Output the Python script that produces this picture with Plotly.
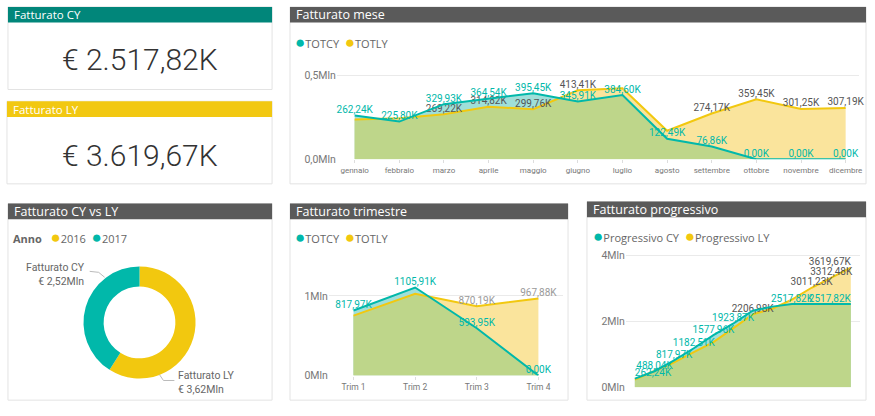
import plotly.graph_objects as go

W, H = 875, 416

# ---- data (K euro) ----
mesi = ["gennaio", "febbraio", "marzo", "aprile", "maggio", "giugno",
        "luglio", "agosto", "settembre", "ottobre", "novembre", "dicembre"]
tot_cy = [262.24, 225.80, 329.93, 364.54, 395.45, 345.91,
          384.60, 122.49, 76.86, 0.00, 0.00, 0.00]
tot_ly = [238.50, 245.89, 269.22, 314.82, 299.76, 413.41,
          425.38, 170.63, 274.17, 359.45, 301.25, 307.19]
# which labels Power BI shows
show_cy = [1, 1, 1, 1, 1, 1, 1, 1, 1, 1, 1, 1]
show_ly = [0, 0, 1, 1, 1, 1, 0, 0, 1, 1, 1, 1]

trimestri = ["Trim 1", "Trim 2", "Trim 3", "Trim 4"]
trim_cy = [817.97, 1105.91, 593.95, 0.00]
trim_ly = [753.61, 1027.99, 870.19, 967.88]
show_trim_cy = [1, 1, 1, 1]
show_trim_ly = [0, 0, 1, 1]

prog_cy = [262.24, 488.04, 817.97, 1182.51, 1577.96, 1923.87,
           2318.47, 2440.96, 2517.82, 2517.82, 2517.82, 2517.82]
prog_ly = [238.50, 484.39, 753.61, 1068.43, 1368.19, 1781.60,
           2206.98, 2377.61, 2651.78, 3011.23, 3312.48, 3619.67]
show_prog_cy = [1, 1, 1, 1, 1, 1, 0, 0, 1, 0, 0, 1]
show_prog_ly = [0, 0, 0, 0, 0, 0, 1, 0, 0, 1, 1, 1]

anni = ["2016", "2017"]
fatturato_anno = [3619.67, 2517.82]

TEAL = "#01B8AA"
YELLOW = "#F2C80F"
TEAL_FILL = "#9FDFD9"
YELLOW_FILL = "#FAE49C"
GREEN_FILL = "#BED68A"
GRID = "#EAEAEA"
FONT = "Roboto"
TITLE_FONT = "Open Sans"


def px(x):
    return x / W


def py(y):
    return 1 - y / H


def lab(v):
    return f"{v:.2f}".replace(".", ",") + "K"


def card(v):
    s = f"{v:,.2f}".replace(",", "X").replace(".", ",").replace("X", ".")
    return "€ " + s + "K"


def labels(vals, show):
    return [lab(v) if s else "" for v, s in zip(vals, show)]


def lower_env(a, b):
    # min of two polylines, with crossing points added
    xs, ys = [], []
    for i in range(len(a)):
        xs.append(i)
        ys.append(min(a[i], b[i]))
        if i < len(a) - 1:
            d0 = a[i] - b[i]
            d1 = a[i + 1] - b[i + 1]
            if d0 * d1 < 0:
                t = d0 / (d0 - d1)
                xs.append(i + t)
                ys.append(a[i] + t * (a[i + 1] - a[i]))
    return xs, ys


fig = go.Figure()


def add_area(cy, ly, txt_cy, txt_ly, ax, pos_cy=None, pos_ly=None, ly_col="#555555"):
    n = len(cy)
    x = list(range(n))
    cy_m = [v / 1000 for v in cy]
    ly_m = [v / 1000 for v in ly]
    ex, ey = lower_env(cy_m, ly_m)
    xa, ya = ("x", "y") if ax == 1 else (f"x{ax}", f"y{ax}")
    common = dict(xaxis=xa, yaxis=ya, hoverinfo="skip", showlegend=False)
    fig.add_trace(go.Scatter(x=x, y=ly_m, fill="tozeroy", fillcolor=YELLOW_FILL,
                             mode="none", **common))
    fig.add_trace(go.Scatter(x=x, y=cy_m, fill="tozeroy", fillcolor=TEAL_FILL,
                             mode="none", **common))
    fig.add_trace(go.Scatter(x=ex, y=ey, fill="tozeroy", fillcolor=GREEN_FILL,
                             mode="none", **common))
    fig.add_trace(go.Scatter(x=x, y=ly_m, mode="lines+text", line=dict(color=YELLOW, width=2),
                             text=txt_ly, textposition=pos_ly or "top center", cliponaxis=False,
                             textfont=dict(family=FONT, size=10, color=ly_col), **common))
    fig.add_trace(go.Scatter(x=x, y=cy_m, mode="lines+text", line=dict(color=TEAL, width=2),
                             text=txt_cy, textposition=pos_cy or "top center", cliponaxis=False,
                             textfont=dict(family=FONT, size=10, color=TEAL), **common))


add_area(tot_cy, tot_ly, labels(tot_cy, show_cy), labels(tot_ly, show_ly), 1)
add_area(trim_cy, trim_ly, labels(trim_cy, show_trim_cy), labels(trim_ly, show_trim_ly), 2,
         ly_col="#9A9A9A")
pos_pc = ["top right"] + ["top center"] * 10 + ["top left"]
pos_pl = ["top center"] * 11 + ["top left"]
add_area(prog_cy, prog_ly, labels(prog_cy, show_prog_cy), labels(prog_ly, show_prog_ly), 3,
         pos_cy=pos_pc, pos_ly=pos_pl)

# donut
fig.add_trace(go.Pie(labels=anni, values=fatturato_anno, hole=0.64, sort=False,
                     direction="clockwise", rotation=0, textinfo="none",
                     marker=dict(colors=[YELLOW, TEAL]), showlegend=False,
                     hoverinfo="skip",
                     domain=dict(x=[px(83), px(197)], y=[py(385), py(271)])))

ax_common = dict(showline=False, zeroline=False, fixedrange=True)
tick_font = dict(family=FONT, size=10.5, color="#777777")
fig.update_layout(
    width=W, height=H, margin=dict(l=0, r=0, t=0, b=0),
    paper_bgcolor="white", plot_bgcolor="rgba(0,0,0,0)",
    xaxis=dict(domain=[px(338), px(862)], range=[-0.4, 11.3],
               tickvals=list(range(12)), ticktext=mesi, showgrid=False,
               ticks="outside", ticklen=3, tickcolor="#DDDDDD",
               tickfont=dict(family=FONT, size=8, color="#777777"), anchor="y", **ax_common),
    yaxis=dict(domain=[py(162), py(55)], range=[0, 0.63], tickvals=[0, 0.5],
               ticktext=["0,0Mln", "0,5Mln"], gridcolor=GRID, tickfont=tick_font,
               anchor="x", **ax_common),
    xaxis2=dict(domain=[px(330), px(565)], range=[-0.4, 3.4],
                tickvals=list(range(4)), ticktext=trimestri, showgrid=False,
                ticks="outside", ticklen=3, tickcolor="#DDDDDD",
                tickfont=dict(family=FONT, size=8.5, color="#777777"), anchor="y2", **ax_common),
    yaxis2=dict(domain=[py(382), py(250)], range=[0, 1.63], tickvals=[0, 1],
                ticktext=["0Mln", "1Mln"], gridcolor=GRID, tickfont=tick_font,
                anchor="x2", **ax_common),
    xaxis3=dict(domain=[px(628), px(863)], range=[-0.46, 11.47], showgrid=False,
                showticklabels=False, anchor="y3", **ax_common),
    yaxis3=dict(domain=[py(394), py(252)], range=[0, 4.22], tickvals=[0, 2, 4],
                ticktext=["0Mln", "2Mln", "4Mln"], gridcolor=GRID, tickfont=tick_font,
                anchor="x3", **ax_common),
)

# panels
shapes = []
annots = []


def panel(x0, y0, x1, y1, head_h, head_col, title, title_size=12.5):
    shapes.append(dict(type="rect", xref="paper", yref="paper", layer="below",
                       x0=px(x0), x1=px(x1), y0=py(y1), y1=py(y0),
                       line=dict(color="#E3E3E3", width=1), fillcolor="white"))
    shapes.append(dict(type="rect", xref="paper", yref="paper", layer="below",
                       x0=px(x0), x1=px(x1), y0=py(y0 + head_h), y1=py(y0),
                       line=dict(width=0), fillcolor=head_col))
    annots.append(dict(xref="paper", yref="paper", x=px(x0 + 4), y=py(y0 + head_h / 2),
                       xanchor="left", yanchor="middle", showarrow=False, text=title,
                       font=dict(family=TITLE_FONT, size=title_size, color="white")))


panel(8, 7, 273, 91, 16, "#01867A", "Fatturato CY", 11.5)
panel(7, 103, 273, 187, 16, "#F2C811", "Fatturato LY", 11.5)
panel(291, 7, 869, 187, 16, "#5A5A5A", "Fatturato mese")
panel(8, 207, 273, 407, 16, "#5A5A5A", "Fatturato CY vs LY")
panel(291, 207, 570, 407, 16, "#5A5A5A", "Fatturato trimestre")
panel(589, 205, 869, 407, 16, "#5A5A5A", "Fatturato progressivo")

# KPI cards
for val, yc in [(fatturato_anno[1], 61), (fatturato_anno[0], 158)]:
    annots.append(dict(xref="paper", yref="paper", x=px(140), y=py(yc), showarrow=False,
                       xanchor="center", yanchor="middle", text=card(val),
                       font=dict(family=FONT, size=30, color="#333333", weight=300)))


def dot(c):
    return f"<span style='color:{c};font-size:17px'>●</span>"


def legend(x, y, items, prefix=""):
    txt = prefix + "  ".join(dot(c) + t for c, t in items)
    annots.append(dict(xref="paper", yref="paper", x=px(x), y=py(y), showarrow=False,
                       xanchor="left", yanchor="middle", text=txt,
                       font=dict(family=TITLE_FONT, size=11, color="#666666")))


legend(294, 42, [(TEAL, "TOTCY"), (YELLOW, "TOTLY")])
legend(294, 241, [(TEAL, "TOTCY"), (YELLOW, "TOTLY")])
legend(593, 240, [(TEAL, "Progressivo CY"), (YELLOW, "Progressivo LY")])
legend(11, 241, [(YELLOW, "2016"), (TEAL, "2017")], prefix="<b>Anno</b>   ")

# donut labels + leader lines
def mln(v):
    return f"€ {v / 1000:.2f}Mln".replace(".", ",")


annots.append(dict(xref="paper", yref="paper", x=px(87), y=py(279), showarrow=False,
                   xanchor="right", yanchor="middle", align="right",
                   text="Fatturato CY<br>" + mln(fatturato_anno[1]),
                   font=dict(family=FONT, size=10.5, color="#666666")))
annots.append(dict(xref="paper", yref="paper", x=px(177), y=py(389), showarrow=False,
                   xanchor="left", yanchor="middle", align="left",
                   text="Fatturato LY<br>" + mln(fatturato_anno[0]),
                   font=dict(family=FONT, size=10.5, color="#666666")))
for pts in [[(90, 276), (99, 277), (105, 282)], [(160, 381), (164, 387), (175, 387)]]:
    path = "M " + " L ".join(f"{px(a)},{py(b)}" for a, b in pts)
    shapes.append(dict(type="path", xref="paper", yref="paper", path=path,
                       line=dict(color="#BBBBBB", width=1)))

fig.update_layout(shapes=shapes, annotations=annots)

# the page body has a default 8px margin: drop it so the figure sits at 0,0
fig.write_html("out.html", config={"displayModeBar": False},
               post_script="document.body.style.margin='0';")
